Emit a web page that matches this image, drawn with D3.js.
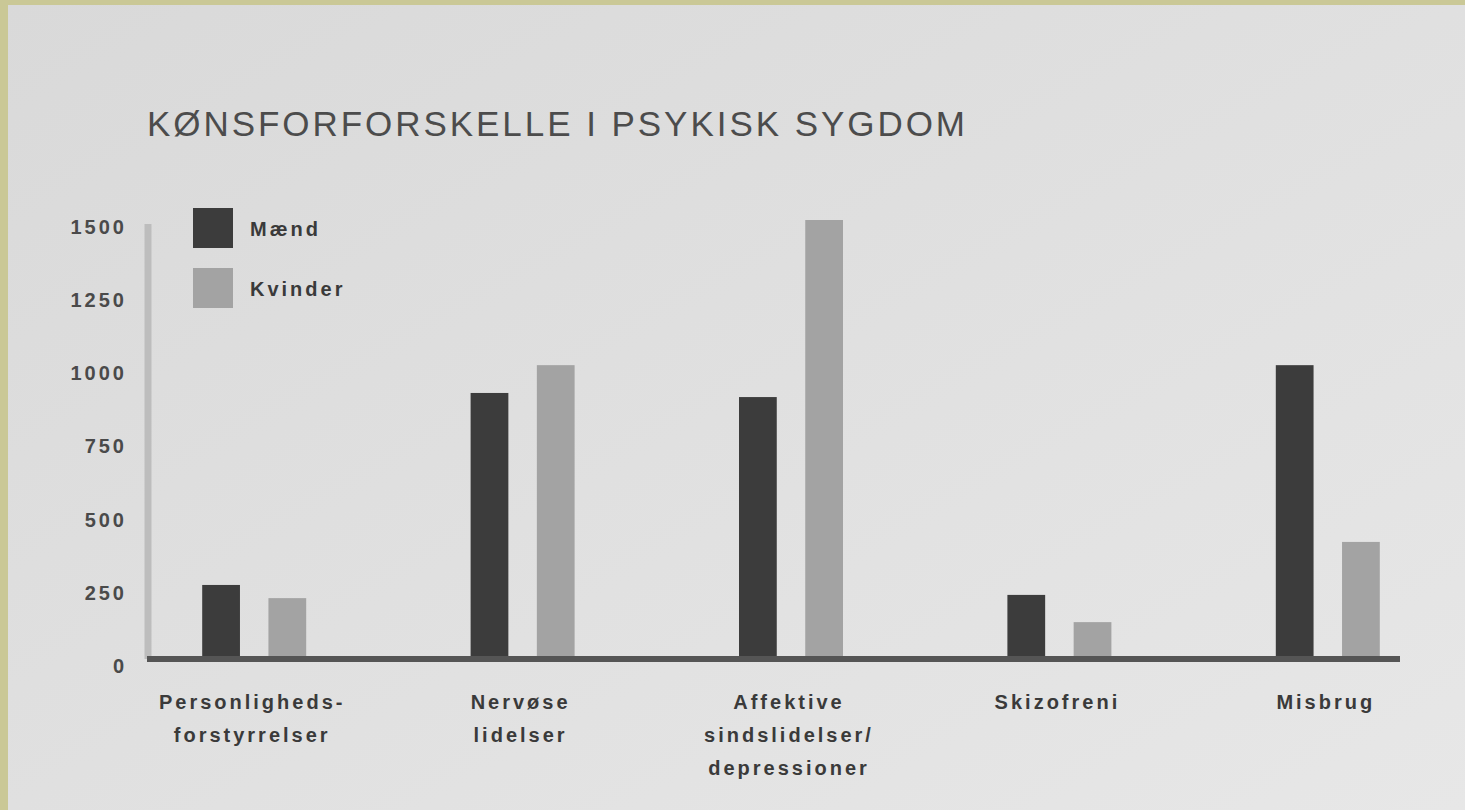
<!DOCTYPE html>
<html>
<head>
<meta charset="utf-8">
<script src="https://cdn.jsdelivr.net/npm/d3@7"></script>
<style>
  html, body { margin: 0; padding: 0; background: #cac896; }
  svg { display: block; }
</style>
</head>
<body>
<svg id="chart" width="1465" height="810"></svg>
<script>
// ---- data ----
const categories = [
  ["Personligheds-", "forstyrrelser"],
  ["Nervøse", "lidelser"],
  ["Affektive", "sindslidelser/", "depressioner"],
  ["Skizofreni"],
  ["Misbrug"]
];
const seriesNames = ["Mænd", "Kvinder"];
const maend   = [253, 909, 895, 219, 1004];
const kvinder = [208, 1004, 1500, 126, 400];
const yTicks  = [0, 250, 500, 750, 1000, 1250, 1500];
const title   = "KØNSFORFORSKELLE I PSYKISK SYGDOM";

const colors = { "Mænd": "#3c3c3c", "Kvinder": "#a3a3a3" };

const svg = d3.select("#chart");
const W = 1465, H = 810;

// background panel with subtle gradient
const defs = svg.append("defs");
const grad = defs.append("linearGradient").attr("id", "bg")
  .attr("x1", "0").attr("y1", "0").attr("x2", "1").attr("y2", "1");
grad.append("stop").attr("offset", "0").attr("stop-color", "#d9d9d9");
grad.append("stop").attr("offset", "1").attr("stop-color", "#e7e7e7");
svg.append("rect").attr("x", 8).attr("y", 5).attr("width", W - 8).attr("height", H - 5)
  .attr("fill", "url(#bg)");

// title
svg.append("text")
  .attr("x", 147).attr("y", 136)
  .attr("textLength", 818).attr("lengthAdjust", "spacing")
  .style("font-family", "'Liberation Sans', Arial, sans-serif")
  .style("font-size", "35px")
  .style("fill", "#4c4c4c")
  .text(title);

// scales
const keys = categories.map(c => c.join(" "));
const x = d3.scaleBand().domain(keys).range([120, 1462]).paddingInner(0).paddingOuter(0);
const xs = d3.scaleBand().domain(seriesNames).range([-52, 52]).paddingInner(0.43).paddingOuter(0);
const y = d3.scaleLinear().domain([0, 1500]).range([659, 220]);

// y axis line
svg.append("line")
  .attr("x1", 148).attr("x2", 148).attr("y1", 224).attr("y2", y(0))
  .attr("stroke", "#bdbdbd").attr("stroke-width", 7);

// y axis tick labels via d3 axis
const yAxis = svg.append("g").attr("transform", "translate(148,0)")
  .call(d3.axisLeft(y).tickValues(yTicks).tickSize(0).tickPadding(21).tickFormat(d3.format("d")));
yAxis.select(".domain").remove();
yAxis.selectAll("text")
  .attr("dy", "0.32em")
  .attr("transform", "translate(0,7)")
  .style("font-family", "'Liberation Sans', Arial, sans-serif")
  .style("font-size", "20px")
  .style("font-weight", "bold")
  .style("letter-spacing", "3px")
  .style("fill", "#4a4a4a");

// bars
const data = keys.map((k, i) => ({ key: k, values: [
  { s: "Mænd", v: maend[i] }, { s: "Kvinder", v: kvinder[i] }
]}));
const groups = svg.append("g").selectAll("g").data(data).join("g")
  .attr("transform", d => `translate(${x(d.key) + x.bandwidth() / 2},0)`);
groups.selectAll("rect").data(d => d.values).join("rect")
  .attr("x", d => xs(d.s))
  .attr("width", xs.bandwidth())
  .attr("y", d => y(d.v))
  .attr("height", d => y(0) - y(d.v))
  .attr("fill", d => colors[d.s]);

// baseline
svg.append("line")
  .attr("x1", 147).attr("x2", 1400).attr("y1", y(0)).attr("y2", y(0))
  .attr("stroke", "#555").attr("stroke-width", 6);

// category labels
const lab = svg.append("g").selectAll("text").data(categories).join("text")
  .attr("x", (d, i) => x(keys[i]) + x.bandwidth() / 2 - 2)
  .attr("y", 709)
  .attr("text-anchor", "middle")
  .style("font-family", "'Liberation Sans', Arial, sans-serif")
  .style("font-size", "20px")
  .style("font-weight", "bold")
  .style("letter-spacing", "3px")
  .style("fill", "#3a3a3a");
lab.each(function(d) {
  const t = d3.select(this);
  const cx = t.attr("x");
  d.forEach((line, j) => {
    t.append("tspan").attr("x", cx).attr("dy", j === 0 ? 0 : 33).text(line);
  });
});

// legend
const legend = svg.append("g").selectAll("g").data(seriesNames).join("g")
  .attr("transform", (d, i) => `translate(193,${208 + i * 60})`);
legend.append("rect").attr("width", 40).attr("height", 40)
  .attr("fill", d => colors[d]);
legend.append("text").attr("x", 57).attr("y", 21).attr("dy", "0.35em")
  .style("font-family", "'Liberation Sans', Arial, sans-serif")
  .style("font-size", "20px")
  .style("font-weight", "bold")
  .style("letter-spacing", "3px")
  .style("fill", "#3a3a3a")
  .text(d => d);
</script>
</body>
</html>
